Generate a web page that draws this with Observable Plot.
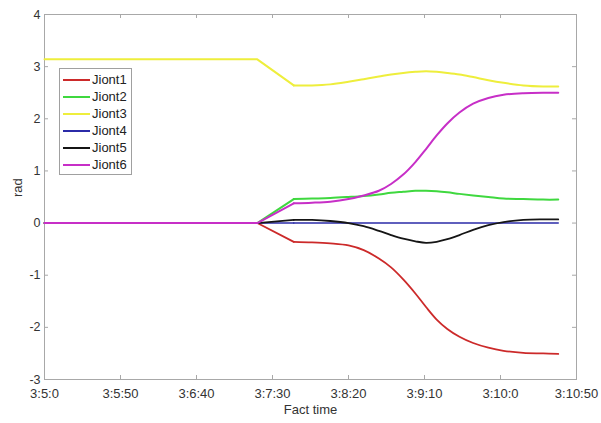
<!DOCTYPE html>
<html>
<head>
<meta charset="utf-8">
<script src="https://cdn.jsdelivr.net/npm/d3@7"></script>
<script src="https://cdn.jsdelivr.net/npm/@observablehq/plot@0.6"></script>
<style>
  html, body { margin: 0; padding: 0; background: #fff; }
  #wrap { position: relative; width: 601px; height: 423px; font-family: "Liberation Sans", Arial, sans-serif; }
  #legend { position: absolute; left: 59px; top: 68px; width: 71px; height: 105px; border: 1px solid #a0a0a0; background: #fff; }
  .item { position: absolute; left: 0; height: 17px; display: flex; align-items: center; font-size: 13px; color: #222; }
  .item span.sw { display: inline-block; width: 27px; height: 2px; margin-left: 3px; margin-right: 2px; }
</style>
</head>
<body>
<div id="wrap"></div>
<script>
// seconds after 3:5:0
const times = [0, 140, 164, 176, 188, 200, 210, 220, 228, 236, 244, 251, 258, 265, 273, 282, 292, 302, 315, 328, 338];
const joint1 = [0, 0, -0.36, -0.37, -0.39, -0.43, -0.52, -0.68, -0.85, -1.08, -1.35, -1.61, -1.85, -2.03, -2.18, -2.30, -2.39, -2.45, -2.49, -2.50, -2.51];
const joint2 = [0, 0, 0.46, 0.47, 0.48, 0.50, 0.52, 0.55, 0.58, 0.60, 0.62, 0.62, 0.61, 0.59, 0.56, 0.53, 0.50, 0.47, 0.46, 0.45, 0.45];
const joint3 = [3.14, 3.14, 2.64, 2.64, 2.66, 2.71, 2.76, 2.81, 2.85, 2.88, 2.90, 2.91, 2.90, 2.88, 2.85, 2.80, 2.74, 2.69, 2.64, 2.62, 2.62];
const joint4 = [0, 0, 0, 0, 0, 0, 0, 0, 0, 0, 0, 0, 0, 0, 0, 0, 0, 0, 0, 0, 0];
const joint5 = [0, 0, 0.06, 0.06, 0.04, 0.00, -0.06, -0.15, -0.23, -0.30, -0.35, -0.38, -0.36, -0.31, -0.23, -0.13, -0.04, 0.02, 0.06, 0.07, 0.07];
const joint6 = [0, 0, 0.38, 0.39, 0.41, 0.46, 0.53, 0.62, 0.75, 0.93, 1.17, 1.42, 1.68, 1.91, 2.12, 2.29, 2.40, 2.46, 2.49, 2.50, 2.50];

const seriesNames = ["Jiont1", "Jiont2", "Jiont3", "Jiont4", "Jiont5", "Jiont6"];
const seriesValues = [joint1, joint2, joint3, joint4, joint5, joint6];
const seriesColors = ["#cc2a2a", "#3fd83f", "#eeee3c", "#2b2ba8", "#151515", "#c72fc7"];
const seriesWidths = [1.8, 2, 2, 1.5, 1.8, 2];

const xTicks = [0, 50, 100, 150, 200, 250, 300, 350];
const xTickLabels = ["3:5:0", "3:5:50", "3:6:40", "3:7:30", "3:8:20", "3:9:10", "3:10:0", "3:10:50"];
const yTicks = [-3, -2, -1, 0, 1, 2, 3, 4];

const kneeTime = 164;
const marks = [];
seriesNames.forEach((name, k) => {
  const rows = times.map((t, i) => ({t, v: seriesValues[k][i]}));
  const early = rows.filter(d => d.t <= kneeTime);
  const late = rows.filter(d => d.t >= kneeTime);
  marks.push(Plot.line(early, {x: "t", y: "v", stroke: seriesColors[k], strokeWidth: seriesWidths[k], curve: "linear"}));
  marks.push(Plot.line(late, {x: "t", y: "v", stroke: seriesColors[k], strokeWidth: seriesWidths[k], curve: "catmull-rom"}));
});

const frameH = 423 - 14 - 44;
const frameW = 601 - 44 - 25;
const tickCol = "#a8a8a8";

const chart = Plot.plot({
  width: 601,
  height: 423,
  marginLeft: 44,
  marginRight: 25,
  marginTop: 14,
  marginBottom: 44,
  style: {fontFamily: "'Liberation Sans', Arial, sans-serif", fontSize: "13px", color: "#333", background: "#fff"},
  x: {domain: [0, 350]},
  y: {domain: [-3, 4]},
  marks: [
    Plot.tickX(xTicks.slice(1, -1), {x: d => d, stroke: tickCol, insetTop: frameH - 4}),
    Plot.tickX(xTicks.slice(1, -1), {x: d => d, stroke: tickCol, insetBottom: frameH - 4}),
    Plot.tickY(yTicks.slice(1, -1), {y: d => d, stroke: tickCol, insetRight: frameW - 4}),
    Plot.tickY(yTicks.slice(1, -1), {y: d => d, stroke: tickCol, insetLeft: frameW - 4}),
    Plot.frame({stroke: tickCol}),
    Plot.axisX({ticks: xTicks, tickSize: 0, tickPadding: 9, tickFormat: d => xTickLabels[xTicks.indexOf(d)], label: null, fill: "#333"}),
    Plot.axisY({ticks: yTicks, tickSize: 0, tickPadding: 4, fontSize: 12.5, tickFormat: d => String(d), label: null, fill: "#333"}),
    Plot.text(["Fact time"], {frameAnchor: "bottom", dy: 34, text: d => d, fill: "#333", fontSize: 13}),
    Plot.text(["rad"], {frameAnchor: "left", dx: -27, rotate: -90, text: d => d, fill: "#333", fontSize: 13}),
    ...marks
  ]
});

const wrap = document.getElementById("wrap");
wrap.appendChild(chart);

const legend = document.createElement("div");
legend.id = "legend";
seriesNames.forEach((name, k) => {
  const it = document.createElement("div");
  it.className = "item";
  it.style.top = (2 + k * 17) + "px";
  const sw = document.createElement("span");
  sw.className = "sw";
  sw.style.background = seriesColors[k];
  it.appendChild(sw);
  it.appendChild(document.createTextNode(name));
  legend.appendChild(it);
});
wrap.appendChild(legend);
</script>
</body>
</html>
